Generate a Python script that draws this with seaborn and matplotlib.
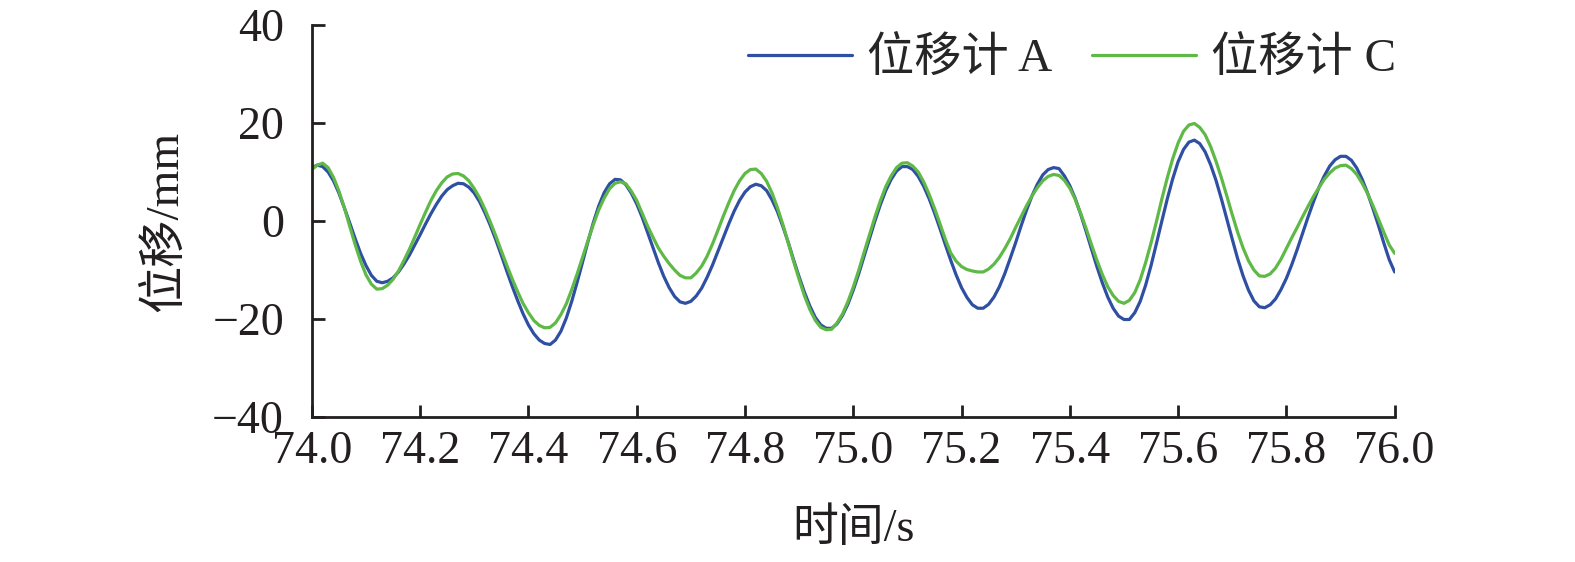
import numpy as np
import pandas as pd
import matplotlib
matplotlib.use('Agg')
import matplotlib.pyplot as plt
import seaborn as sns

# 时间轴 (s)，每 0.01 s 读一个点
t = np.round(np.linspace(74.0, 76.0, 201), 2)

# 位移计 A (mm)
disp_a = [10.9, 11.4, 11.1, 10.0, 8.2, 5.7, 2.7, -0.4, -3.6, -6.6,
          -9.1, -11.1, -12.3, -12.6, -12.3, -11.6, -10.4, -8.8, -7.0, -4.9,
          -2.8, -0.6, 1.5, 3.4, 5.1, 6.4, 7.2, 7.7, 7.6, 6.9,
          5.7, 3.9, 1.6, -1.0, -3.9, -7.0, -10.2, -13.3, -16.2, -18.9,
          -21.2, -23.0, -24.3, -25.0, -25.2, -24.3, -22.5, -19.8, -16.4, -12.5,
          -8.4, -4.2, -0.3, 3.1, 5.8, 7.6, 8.5, 8.4, 7.4, 5.7,
          3.5, 0.8, -2.3, -5.4, -8.5, -11.3, -13.6, -15.4, -16.5, -16.8,
          -16.4, -15.3, -13.7, -11.5, -9.0, -6.2, -3.4, -0.6, 2.0, 4.2,
          5.9, 7.0, 7.5, 7.2, 6.2, 4.3, 1.9, -1.1, -4.4, -8.0,
          -11.4, -14.6, -17.4, -19.7, -21.2, -21.9, -21.9, -21.0, -19.3, -17.0,
          -14.1, -10.8, -7.2, -3.6, 0.0, 3.3, 6.2, 8.5, 10.2, 11.1,
          11.1, 10.5, 9.1, 7.1, 4.6, 1.7, -1.5, -4.8, -8.0, -11.0,
          -13.6, -15.6, -17.1, -17.8, -17.8, -17.0, -15.5, -13.4, -10.7, -7.6,
          -4.4, -1.0, 2.2, 5.1, 7.5, 9.4, 10.5, 10.9, 10.7, 9.2,
          7.2, 4.6, 1.4, -2.1, -5.7, -9.3, -12.6, -15.5, -17.8, -19.4,
          -20.1, -20.1, -18.7, -16.4, -13.1, -9.1, -4.6, 0.0, 4.5, 8.6,
          12.1, 14.6, 16.1, 16.5, 15.8, 14.1, 11.5, 8.3, 4.5, 0.4,
          -3.7, -7.7, -11.2, -14.1, -16.3, -17.5, -17.7, -17.1, -15.9, -14.0,
          -11.7, -8.9, -5.8, -2.5, 0.8, 3.9, 6.8, 9.2, 11.2, 12.5,
          13.2, 13.2, 12.4, 10.8, 8.5, 5.7, 2.5, -0.9, -4.5, -7.9,
          -10.4]

# 位移计 C (mm)
disp_c = [10.5, 11.4, 11.8, 10.9, 8.9, 6.1, 2.7, -1.1, -4.8, -8.2,
          -11.0, -12.9, -13.9, -13.8, -13.1, -11.9, -10.2, -8.1, -5.8, -3.3,
          -0.7, 1.8, 4.2, 6.2, 7.8, 9.0, 9.6, 9.7, 9.2, 8.2,
          6.6, 4.7, 2.3, -0.3, -3.1, -6.1, -9.0, -11.8, -14.4, -16.8,
          -18.7, -20.3, -21.3, -21.8, -21.7, -20.8, -19.1, -16.9, -14.0, -10.8,
          -7.4, -4.0, -0.7, 2.3, 4.7, 6.6, 7.7, 8.0, 7.6, 6.1,
          4.2, 1.6, -1.0, -3.3, -5.5, -7.2, -8.7, -10.0, -11.1, -11.6,
          -11.6, -10.6, -9.2, -7.2, -4.7, -1.9, 1.0, 3.7, 6.2, 8.2,
          9.7, 10.5, 10.6, 9.7, 8.1, 5.7, 2.7, -0.7, -4.5, -8.3,
          -11.9, -15.3, -18.1, -20.3, -21.7, -22.2, -22.1, -20.8, -19.0, -16.5,
          -13.5, -10.1, -6.4, -2.8, 0.8, 4.1, 7.0, 9.2, 10.9, 11.8,
          11.9, 11.2, 10.0, 8.0, 5.5, 2.6, -0.5, -3.7, -6.5, -8.2,
          -9.3, -9.9, -10.2, -10.4, -10.4, -9.8, -8.8, -7.4, -5.6, -3.6,
          -1.3, 0.9, 3.1, 5.1, 6.8, 8.2, 9.1, 9.5, 9.3, 8.3,
          6.7, 4.4, 1.6, -1.5, -4.8, -8.0, -10.9, -13.4, -15.2, -16.4,
          -16.8, -16.2, -14.6, -12.0, -8.5, -4.5, -0.1, 4.5, 8.8, 12.7,
          15.9, 18.3, 19.6, 19.9, 19.1, 17.6, 15.2, 12.2, 8.8, 5.1,
          1.3, -2.3, -5.5, -8.1, -10.0, -11.2, -11.3, -10.8, -9.6, -7.8,
          -5.6, -3.4, -1.3, 0.9, 3.0, 5.0, 6.8, 8.5, 9.8, 10.8,
          11.3, 11.4, 10.7, 9.5, 7.7, 5.6, 3.1, 0.4, -2.3, -4.9,
          -6.6]

labels = ['位移计 A', '位移计 C']
colors = ['#2f4fa3', '#5fb946']

x_ticks = [74.0, 74.2, 74.4, 74.6, 74.8, 75.0, 75.2, 75.4, 75.6, 75.8, 76.0]
y_ticks = [-40, -20, 0, 20, 40]

df = pd.concat([
    pd.DataFrame({'time': t, 'disp': disp_a, 'gauge': labels[0]}),
    pd.DataFrame({'time': t, 'disp': disp_c, 'gauge': labels[1]}),
])

sns.set_style('ticks')
plt.rcParams['font.family'] = ['Liberation Serif', 'Noto Sans CJK SC']

fig = plt.figure(figsize=(15.75, 5.62), dpi=100)
ax = fig.add_axes([0.198, 0.258, 0.6875, 0.6975])

sns.lineplot(data=df, x='time', y='disp', hue='gauge', palette=colors,
             linewidth=2.3, ax=ax, legend=True)

ax.set_xlim(74.0, 76.0)
ax.set_ylim(-40, 40)
ax.set_xticks(x_ticks)
ax.set_xticklabels([f'{v:.1f}' for v in x_ticks])
ax.set_yticks(y_ticks)
ax.set_yticklabels([str(v).replace('-', '\u2212') for v in y_ticks])

sns.despine(ax=ax)
for s in ['left', 'bottom']:
    ax.spines[s].set_linewidth(2.0)
    ax.spines[s].set_color('#231f20')
ax.tick_params(direction='in', length=9, width=2.0, color='#231f20',
               labelsize=33, labelcolor='#231f20')
ax.tick_params(axis='y', pad=20)
ax.tick_params(axis='x', pad=10)

ax.set_xlabel('时间/s', fontsize=33, color='#231f20', labelpad=25)
ax.set_ylabel('位移/mm', fontsize=34, color='#231f20', labelpad=18)

ax.legend(loc='center', bbox_to_anchor=(0.702, 0.913), ncol=2, frameon=False,
          fontsize=34, handlelength=2.2, handletextpad=0.32, columnspacing=0.85,
          title=None)
for line in ax.get_legend().get_lines():
    line.set_linewidth(2.3)

fig.savefig('out.png', dpi=100)
